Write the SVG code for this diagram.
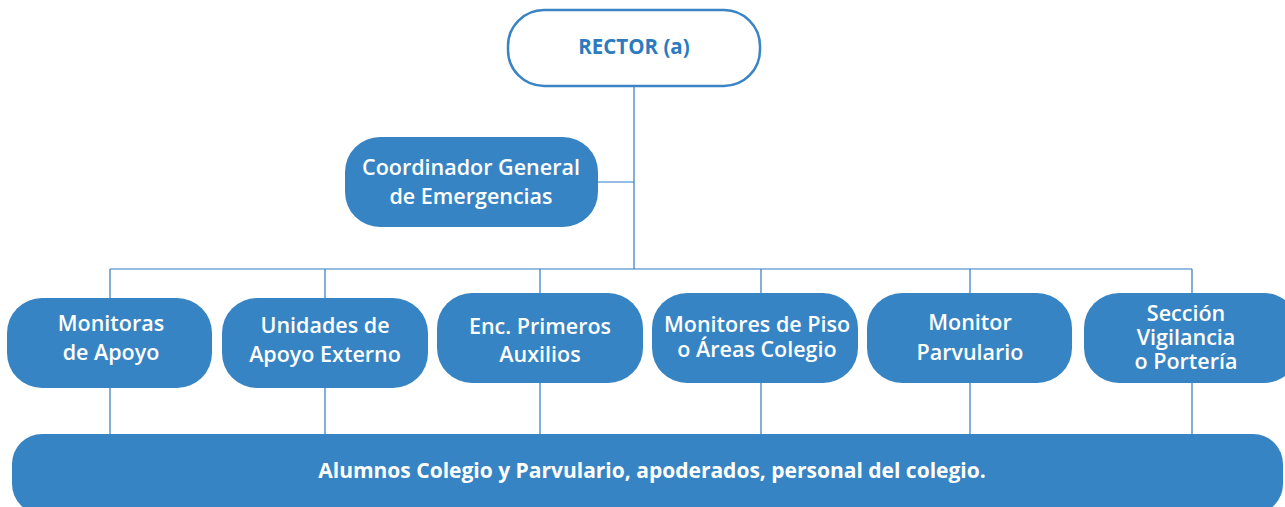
<svg xmlns="http://www.w3.org/2000/svg" width="1285" height="507" viewBox="0 0 1285 507">
<style>
.box{fill:#3784c4;}
.t{font-family:"Open Sans","Noto Sans","Liberation Sans",sans-serif;font-weight:600;font-size:21.5px;fill:#ffffff;text-anchor:middle;}
.ln{stroke:#2f7bbf;stroke-width:1.2;fill:none;}
</style>
<rect width="1285" height="507" fill="#ffffff"/>
<g id="connectors">
<line class="ln" x1="634" y1="86" x2="634" y2="269"/>
<line class="ln" x1="598" y1="182" x2="634" y2="182"/>
<line class="ln" x1="110" y1="269" x2="1192" y2="269"/>
<line class="ln" x1="110" y1="269" x2="110" y2="434"/>
<line class="ln" x1="325" y1="269" x2="325" y2="434"/>
<line class="ln" x1="540" y1="269" x2="540" y2="434"/>
<line class="ln" x1="761" y1="269" x2="761" y2="434"/>
<line class="ln" x1="970" y1="269" x2="970" y2="434"/>
<line class="ln" x1="1192" y1="269" x2="1192" y2="434"/>
</g>
<g id="rector">
<rect x="508" y="10" width="252" height="76" rx="36" fill="#ffffff" stroke="#3a83c4" stroke-width="2.5"/>
<text class="t" x="634" y="54" style="fill:#2c7bbf;font-size:20.5px;font-weight:700">RECTOR (a)</text>
</g>
<g id="coordinador">
<rect class="box" x="345" y="137" width="253" height="90" rx="35"/>
<text class="t" x="471" y="175">Coordinador General</text>
<text class="t" x="471" y="204">de Emergencias</text>
</g>
<g id="monitoras">
<rect class="box" x="7" y="298" width="205" height="90" rx="35"/>
<text class="t" x="111" y="331">Monitoras</text>
<text class="t" x="111" y="360">de Apoyo</text>
</g>
<g id="unidades">
<rect class="box" x="222" y="298" width="206" height="90" rx="35"/>
<text class="t" x="325" y="333">Unidades de</text>
<text class="t" x="325" y="362">Apoyo Externo</text>
</g>
<g id="enc">
<rect class="box" x="437" y="293" width="206" height="90" rx="35"/>
<text class="t" x="540" y="334">Enc. Primeros</text>
<text class="t" x="540" y="362">Auxilios</text>
</g>
<g id="monitores">
<rect class="box" x="652" y="293" width="206" height="90" rx="35"/>
<text class="t" x="757" y="332">Monitores de Piso</text>
<text class="t" x="757" y="357">o Áreas Colegio</text>
</g>
<g id="parvulario">
<rect class="box" x="867" y="293" width="205" height="90" rx="35"/>
<text class="t" x="970" y="330">Monitor</text>
<text class="t" x="970" y="360">Parvulario</text>
</g>
<g id="seccion">
<rect class="box" x="1084" y="293" width="215" height="90" rx="35"/>
<text class="t" x="1186" y="321">Sección</text>
<text class="t" x="1186" y="345">Vigilancia</text>
<text class="t" x="1186" y="369">o Portería</text>
</g>
<g id="alumnos">
<rect class="box" x="12" y="434" width="1271" height="80" rx="30"/>
<text class="t" x="652" y="478" style="font-size:21px;font-weight:700">Alumnos Colegio y Parvulario, apoderados, personal del colegio.</text>
</g>
</svg>
